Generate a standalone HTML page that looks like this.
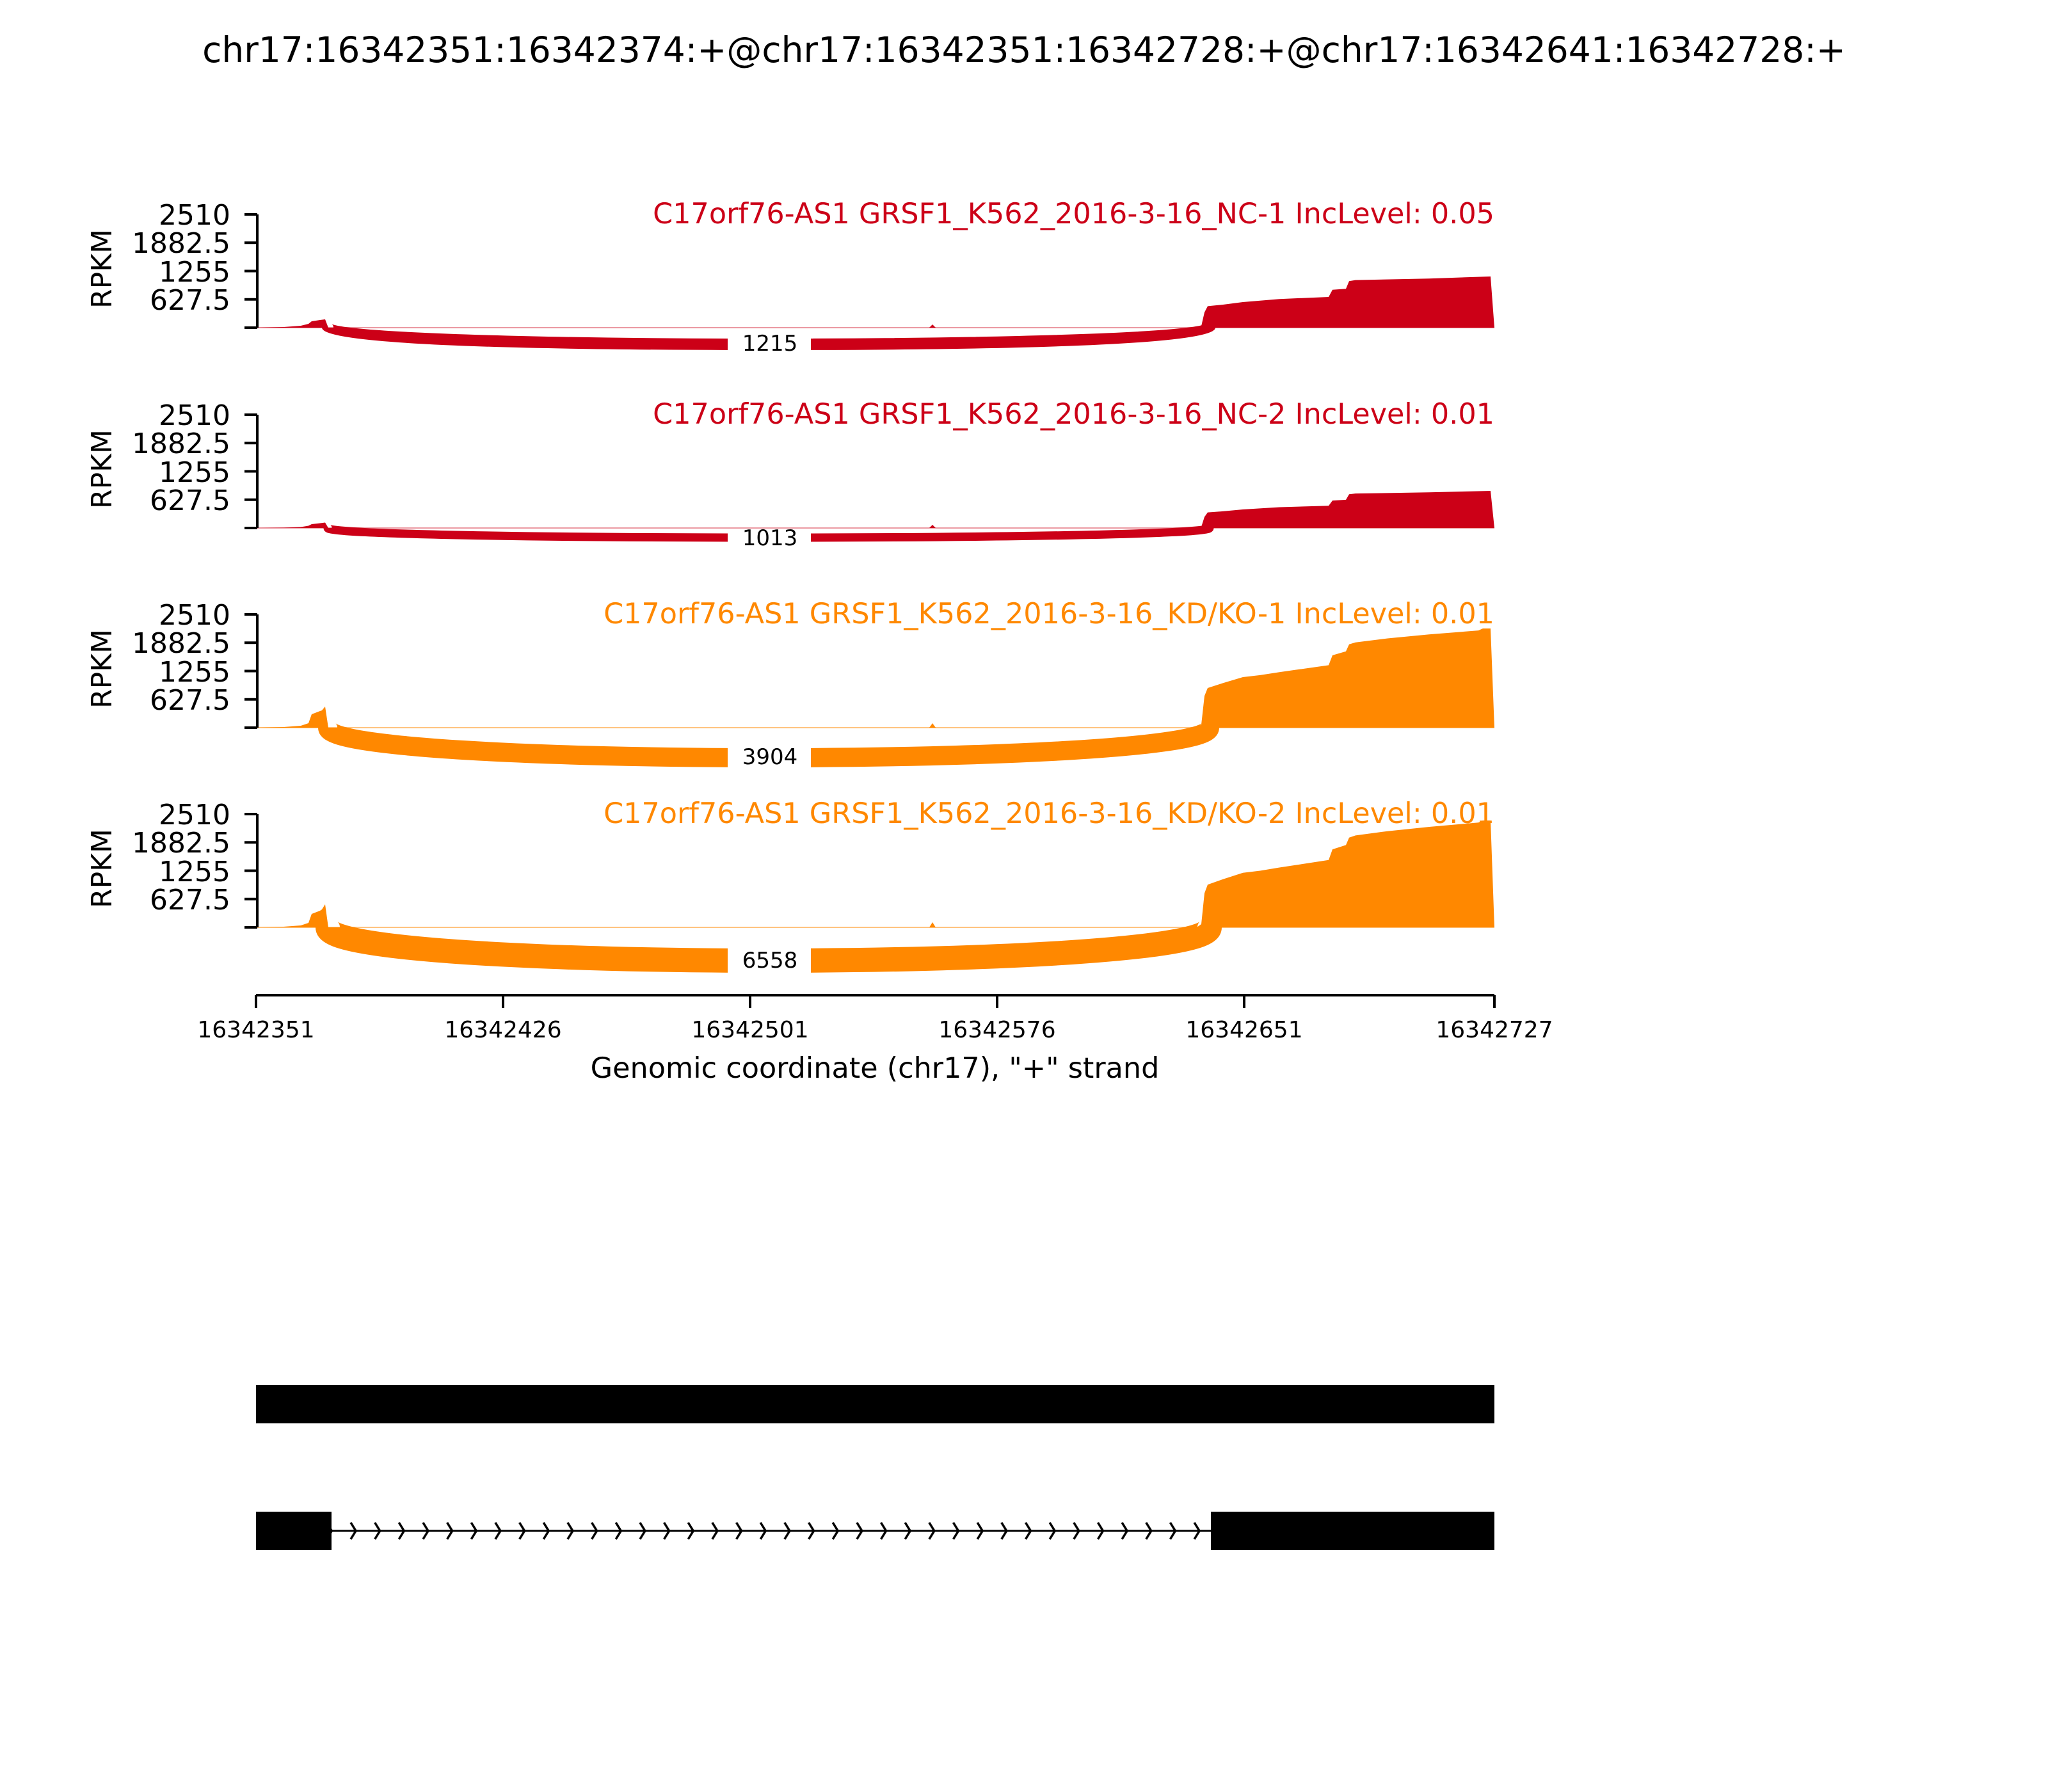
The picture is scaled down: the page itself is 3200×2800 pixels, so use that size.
<!DOCTYPE html>
<html><head><meta charset="utf-8"><style>
html,body{margin:0;padding:0;background:#fff;}
svg{display:block;}
text{font-family:"DejaVu Sans","Liberation Sans",sans-serif;}
</style></head><body>
<svg width="3200" height="2800" viewBox="0 0 3200 2800" xmlns="http://www.w3.org/2000/svg">
<defs>
<pattern id="chev" patternUnits="userSpaceOnUse" x="526" y="2370" width="37.66" height="44">
<polyline points="22,9 30,22 22,35" fill="none" stroke="#000" stroke-width="3.5"/>
</pattern>
</defs>
<text x="1600" y="97" font-size="55" text-anchor="middle">chr17:16342351:16342374:+@chr17:16342351:16342728:+@chr17:16342641:16342728:+</text>

<!-- Panel 1 -->
<g>
<line x1="400" y1="512" x2="2335" y2="512" stroke="#CC0017" stroke-opacity="0.4" stroke-width="2"/>
<polygon fill="#CC0017" points="400,512 443,511 470,509 482,506 487,502 500,500 508,499 513,512"/>
<polygon fill="#CC0017" points="1452,512 1457,507 1462,512"/>
<polygon fill="#CC0017" points="1870,512 1877,509.6 1882,488 1887,478.4 1911,476 1942,472 1999,467.2 2076,464 2082,452.8 2103,451.2 2108,439.2 2118,437.6 2233,435.2 2329,432 2335,512"/>
<path d="M512,512 C512,546.7 1890,546.7 1890,512" fill="none" stroke="#CC0017" stroke-width="18"/>
<rect x="1137" y="522" width="130" height="32" fill="#fff"/>
<text x="1203" y="548" font-size="34" text-anchor="middle">1215</text>
<text x="2335" y="349" font-size="44.5" text-anchor="end" fill="#CC0017">C17orf76-AS1 GRSF1_K562_2016-3-16_NC-1 IncLevel: 0.05</text>
</g>
<!-- Panel 2 -->
<g>
<line x1="400" y1="825" x2="2335" y2="825" stroke="#CC0017" stroke-opacity="0.4" stroke-width="2"/>
<polygon fill="#CC0017" points="400,825 443,824.5 470,823.5 482,821.5 487,819 500,817.5 508,816.5 513,825"/>
<polygon fill="#CC0017" points="1452,825 1457,820 1462,825"/>
<polygon fill="#CC0017" points="1870,825 1877,823.3 1882,807.6 1887,800.6 1911,798.9 1942,796 1999,792.5 2076,790.2 2082,782.1 2103,780.9 2108,772.2 2118,771.1 2233,769.3 2329,767 2335,825"/>
<path d="M512,825 C512,845 1890,845 1890,825" fill="none" stroke="#CC0017" stroke-width="13"/>
<rect x="1137" y="830" width="130" height="28" fill="#fff"/>
<text x="1203" y="852" font-size="34" text-anchor="middle">1013</text>
<text x="2335" y="662" font-size="44.5" text-anchor="end" fill="#CC0017">C17orf76-AS1 GRSF1_K562_2016-3-16_NC-2 IncLevel: 0.01</text>
</g>
<!-- Panel 3 -->
<g>
<line x1="400" y1="1137" x2="2335" y2="1137" stroke="#FF8800" stroke-opacity="0.5" stroke-width="2"/>
<polygon fill="#FF8800" points="400,1137 443,1136 470,1134 482,1130 487,1116 500,1111 503,1110 508,1104 513,1137"/>
<polygon fill="#FF8800" points="1452,1137 1457,1130 1462,1137"/>
<polygon fill="#FF8800" points="1870,1137 1877,1132.4 1882,1087.4 1887,1075 1911,1067.3 1942,1058 1969,1054.9 1999,1050.2 2076,1039.4 2082,1023.9 2103,1017.7 2108,1006.8 2118,1003.7 2168,997.5 2233,991.3 2310,985.1 2317,982 2329,982 2335,1137"/>
<path d="M512,1137 C512,1199.7 1890,1199.7 1890,1137" fill="none" stroke="#FF8800" stroke-width="30"/>
<rect x="1137" y="1164" width="130" height="40" fill="#fff"/>
<text x="1203" y="1194" font-size="34" text-anchor="middle">3904</text>
<text x="2335" y="974" font-size="44.5" text-anchor="end" fill="#FF8800">C17orf76-AS1 GRSF1_K562_2016-3-16_KD/KO-1 IncLevel: 0.01</text>
</g>
<!-- Panel 4 -->
<g>
<line x1="400" y1="1449" x2="2335" y2="1449" stroke="#FF8800" stroke-opacity="0.5" stroke-width="2"/>
<polygon fill="#FF8800" points="400,1449 443,1448 470,1446 482,1442 487,1428 500,1423 503,1421 508,1413 513,1449"/>
<polygon fill="#FF8800" points="1452,1449 1457,1441 1462,1449"/>
<polygon fill="#FF8800" points="1870,1449 1877,1444 1882,1395.6 1887,1382.2 1911,1373.8 1942,1363.8 1969,1360.5 1999,1355.5 2076,1343.8 2082,1327.1 2103,1320.4 2108,1308.7 2118,1305.4 2168,1298.7 2233,1292 2310,1285.3 2317,1282 2329,1282 2335,1449"/>
<path d="M512,1449 C512,1518.3 1890,1518.3 1890,1449" fill="none" stroke="#FF8800" stroke-width="38"/>
<rect x="1137" y="1478" width="130" height="46" fill="#fff"/>
<text x="1203" y="1512" font-size="34" text-anchor="middle">6558</text>
<text x="2335" y="1286" font-size="44.5" text-anchor="end" fill="#FF8800">C17orf76-AS1 GRSF1_K562_2016-3-16_KD/KO-2 IncLevel: 0.01</text>
</g>

<!-- Y axes -->
<g stroke="#000" stroke-width="4" fill="none">
<path d="M402,335 V512 M382,335 H402 M382,379.25 H402 M382,423.5 H402 M382,467.75 H402 M382,512 H402"/>
<path d="M402,648 V825 M382,648 H402 M382,692.25 H402 M382,736.5 H402 M382,780.75 H402 M382,825 H402"/>
<path d="M402,960 V1137 M382,960 H402 M382,1004.25 H402 M382,1048.5 H402 M382,1092.75 H402 M382,1137 H402"/>
<path d="M402,1272 V1449 M382,1272 H402 M382,1316.25 H402 M382,1360.5 H402 M382,1404.75 H402 M382,1449 H402"/>
</g>
<g font-size="44" text-anchor="end">
<text x="360" y="351">2510</text><text x="360" y="395">1882.5</text><text x="360" y="440">1255</text><text x="360" y="484">627.5</text>
<text x="360" y="664">2510</text><text x="360" y="708">1882.5</text><text x="360" y="753">1255</text><text x="360" y="797">627.5</text>
<text x="360" y="976">2510</text><text x="360" y="1020">1882.5</text><text x="360" y="1065">1255</text><text x="360" y="1109">627.5</text>
<text x="360" y="1288">2510</text><text x="360" y="1332">1882.5</text><text x="360" y="1377">1255</text><text x="360" y="1421">627.5</text>
</g>
<g font-size="44" text-anchor="middle">
<text transform="translate(174,420) rotate(-90)">RPKM</text>
<text transform="translate(174,733) rotate(-90)">RPKM</text>
<text transform="translate(174,1045) rotate(-90)">RPKM</text>
<text transform="translate(174,1357) rotate(-90)">RPKM</text>
</g>

<!-- X axis -->
<g stroke="#000" stroke-width="4" fill="none">
<path d="M400,1555 H2335 M400,1555 V1575 M786,1555 V1575 M1172,1555 V1575 M1558,1555 V1575 M1944,1555 V1575 M2335,1555 V1575"/>
</g>
<g font-size="36" text-anchor="middle">
<text x="400" y="1621">16342351</text>
<text x="786" y="1621">16342426</text>
<text x="1172" y="1621">16342501</text>
<text x="1558" y="1621">16342576</text>
<text x="1944" y="1621">16342651</text>
<text x="2335" y="1621">16342727</text>
</g>
<text x="1367" y="1684" font-size="44.5" text-anchor="middle">Genomic coordinate (chr17), "+" strand</text>

<!-- Gene models -->
<rect x="400" y="2164" width="1935" height="60" fill="#000"/>
<line x1="518" y1="2392" x2="1892" y2="2392" stroke="#000" stroke-width="3"/>
<rect x="518" y="2370" width="1374" height="44" fill="url(#chev)"/>
<rect x="400" y="2362" width="118" height="60" fill="#000"/>
<rect x="1892" y="2362" width="443" height="60" fill="#000"/>
</svg>
</body></html>
